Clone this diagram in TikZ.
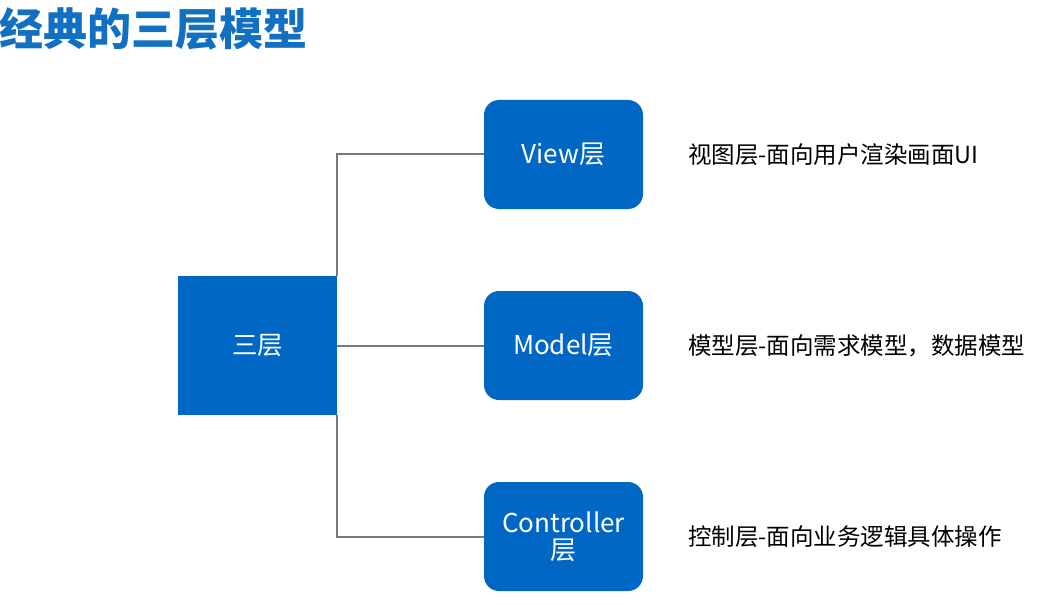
\documentclass[tikz,border=0pt]{standalone}
\usepackage{fontspec}
\setmainfont{Noto Sans CJK SC}
\begin{document}
\begin{tikzpicture}[x=1pt,y=-1pt]
\definecolor{boxblue}{RGB}{0,104,196}
\definecolor{titleblue}{RGB}{18,112,194}
\definecolor{linegray}{RGB}{120,120,128}
\tikzset{
  layerbox/.style={fill=boxblue, rounded corners=15pt, minimum width=159pt, minimum height=109pt, inner sep=0pt, text=white, font=\fontsize{26}{30}\selectfont, align=center},
  mainbox/.style={fill=boxblue, minimum width=159pt, minimum height=139pt, inner sep=0pt, text=white, font=\fontsize{25.5}{29}\selectfont},
  desc/.style={anchor=west, inner sep=0pt, font=\fontsize{23.5}{27}\selectfont, text=black},
  link/.style={draw=linegray, line width=2pt}
}
\useasboundingbox (0,0) rectangle (1060,607);
\node[anchor=base west, inner sep=0pt, text=titleblue, font=\fontsize{44}{48}\bfseries\selectfont] (title) at (-1,45.5) {经典的三层模型};
\node[mainbox] (main) at (257.5,345.5) {三层};
\node[layerbox] (view) at (563.5,154.5) {View层};
\node[layerbox] (model) at (563.5,345.5) {Model层};
\node[layerbox] (ctrl) at (563.5,536.5) {Controller\\[-3pt]层};
\draw[link] (main.north east) |- (view.west);
\draw[link] (main.east) -- (model.west);
\draw[link] (main.south east) |- (ctrl.west);
\node[desc] (dview) at (688,155) {视图层-面向用户渲染画面UI};
\node[desc] (dmodel) at (688,346) {模型层-面向需求模型，数据模型};
\node[desc] (dctrl) at (688,537) {控制层-面向业务逻辑具体操作};
\end{tikzpicture}
\end{document}
